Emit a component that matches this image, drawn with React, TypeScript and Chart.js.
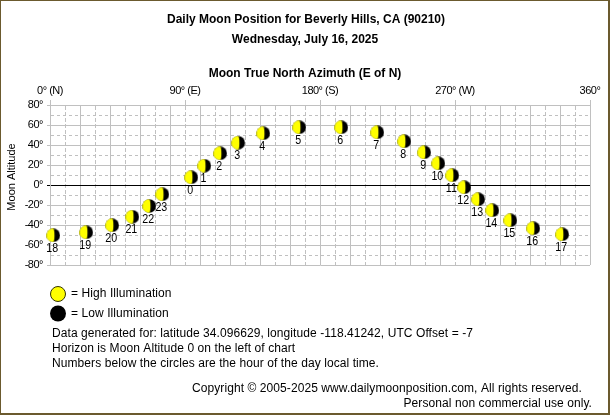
import React, { useEffect, useRef } from "react";
import { Chart, registerables } from "chart.js";

Chart.register(...registerables);

const hours = [0, 1, 2, 3, 4, 5, 6, 7, 8, 9, 10, 11, 12, 13, 14, 15, 16, 17, 18, 19, 20, 21, 22, 23];
const azimuths = [94.2, 102.9, 113.5, 125.5, 142.2, 166.2, 194.2, 218.2, 236.2, 249.5, 258.9, 268.2, 276.2, 285.5, 294.9, 306.9, 322.2, 341.5, 2.2, 24.2, 41.5, 54.9, 66.2, 74.9];
const altitudes = [7.7, 19.3, 31.7, 42.3, 51.7, 57.7, 57.7, 52.7, 43.7, 32.7, 21.7, 9.7, -2.3, -14.3, -25.3, -35.3, -43.3, -49.3, -50.3, -47.3, -40.3, -31.7, -21, -9.3];
const azimuthLabels: Record<number, string> = { 0: "0° (N)", 90: "90° (E)", 180: "180° (S)", 270: "270° (W)", 360: "360°" };

const titleLine1 = "Daily Moon Position for Beverly Hills, CA (90210)";
const titleLine2 = "Wednesday, July 16, 2025";
const axisTitleX = "Moon True North Azimuth (E of N)";
const axisTitleY = "Moon Altitude";
const legendHigh = "= High Illumination";
const legendLow = "= Low Illumination";
const notes = [
  "Data generated for: latitude 34.096629, longitude -118.41242, UTC Offset = -7",
  "Horizon is Moon Altitude 0 on the left of chart",
  "Numbers below the circles are the hour of the day local time.",
];
const copyright1 = "Copyright © 2005-2025 www.dailymoonposition.com, All rights reserved.";
const copyright2 = "Personal non commercial use only.";

const FONT = '"Liberation Sans", Arial, sans-serif';
const GRID = "#c0c0c0";
const FRAME = "#6b5a2e";

function moonSprite(): HTMLCanvasElement {
  const c = document.createElement("canvas");
  c.width = 14;
  c.height = 14;
  const g = c.getContext("2d")!;
  g.fillStyle = "#000000";
  g.beginPath();
  g.arc(7, 7, 6.8, 0, Math.PI * 2);
  g.fill();
  g.fillStyle = "#ffff00";
  g.beginPath();
  g.arc(7, 7, 6.8, Math.PI / 2, (3 * Math.PI) / 2);
  g.ellipse(7, 7, 1.2, 6.8, 0, -Math.PI / 2, Math.PI / 2);
  g.fill();
  return c;
}

const overlay = {
  id: "overlay",
  beforeDraw(chart: any) {
    chart.ctx.letterSpacing = "-0.5px";
  },
  afterDatasetsDraw(chart: any) {
    const g = chart.ctx as any;
    const meta = chart.getDatasetMeta(0);
    g.save();
    g.letterSpacing = "0px";
    g.fillStyle = FRAME;
    g.fillRect(0, 0, 610, 1);
    g.fillRect(0, 0, 1, 415);
    g.fillRect(608, 0, 2, 415);
    g.fillRect(0, 413, 610, 2);

    g.fillStyle = "#000";
    g.textBaseline = "middle";
    g.textAlign = "center";
    g.font = `13px ${FONT}`;
    meta.data.forEach((p: any, i: number) => {
      g.save();
      g.translate(p.x - 1, p.y + 13);
      g.scale(0.82, 1);
      g.fillText(String(hours[i]), 0, 0);
      g.restore();
    });

    g.font = `bold 12px ${FONT}`;
    g.fillText(titleLine1, 306, 19.5);
    g.fillText(titleLine2, 305, 39.5);
    g.fillText(axisTitleX, 305, 74);

    g.font = `11px ${FONT}`;
    g.save();
    g.translate(12, 177);
    g.rotate(-Math.PI / 2);
    g.fillText(axisTitleY, 0, 0);
    g.restore();

    g.font = `12px ${FONT}`;
    g.letterSpacing = "0.08px";
    g.textAlign = "left";
    g.fillText(legendHigh, 71, 294);
    g.fillText(legendLow, 71, 314);
    notes.forEach((t: string, i: number) => g.fillText(t, 52, 334 + i * 15));
    g.fillText(copyright1, 192, 389);
    g.textAlign = "right";
    g.fillText(copyright2, 592, 404);
    g.letterSpacing = "0px";

    g.fillStyle = "#ffff00";
    g.strokeStyle = "#333300";
    g.lineWidth = 1;
    g.beginPath();
    g.arc(58, 294, 7.5, 0, Math.PI * 2);
    g.fill();
    g.stroke();
    g.fillStyle = "#000";
    g.beginPath();
    g.arc(58, 313.5, 8, 0, Math.PI * 2);
    g.fill();
    g.restore();
  },
};

const isMajor = (c: any) => c.tick && c.tick.value % 20 === 0;
const tickMark = (c: any, step: number, col: string) => (c.tick && c.tick.value % step === 0 ? col : "rgba(0,0,0,0)");

export default function App() {
  const ref = useRef<HTMLCanvasElement>(null);
  useEffect(() => {
    document.body.style.margin = "0";
    const chart = new Chart(ref.current!, {
      type: "scatter",
      data: {
        datasets: [
          {
            label: "Moon position",
            data: azimuths.map((x, i) => ({ x, y: altitudes[i] })),
            pointStyle: moonSprite() as any,
            pointRadius: 7,
            showLine: false,
            clip: false,
          },
        ],
      },
      options: {
        animation: false,
        responsive: false,
        devicePixelRatio: 1,
        layout: { padding: { left: 0, top: 0, right: 20, bottom: 150 } },
        plugins: { legend: { display: false }, tooltip: { enabled: false } },
        scales: {
          x: {
            type: "linear",
            position: "top",
            min: 0,
            max: 360,
            afterBuildTicks: (s: any) => {
              s.ticks = [];
              for (let v = 0; v <= 360; v += 10) s.ticks.push({ value: v });
            },
            afterFit: (s: any) => {
              s.height = 105;
            },
            ticks: {
              autoSkip: false,
              maxRotation: 0,
              padding: 2,
              color: "#000",
              font: { family: FONT, size: 11 },
              callback: (v: any) => azimuthLabels[v] ?? "",
            },
            grid: {
              color: GRID,
              tickLength: 5,
              tickColor: (c: any) => tickMark(c, 90, GRID),
            },
            border: {
              color: GRID,
              dash: (c: any) => (isMajor(c) ? [] : [4, 2]),
            },
          },
          y: {
            type: "linear",
            min: -80,
            max: 80,
            afterBuildTicks: (s: any) => {
              s.ticks = [];
              for (let v = -80; v <= 80; v += 10) s.ticks.push({ value: v });
            },
            afterFit: (s: any) => {
              s.width = 50;
            },
            ticks: {
              autoSkip: false,
              padding: 4,
              color: "#000",
              font: { family: FONT, size: 11 },
              callback: (v: any) => (v % 20 === 0 ? `${v}°` : ""),
            },
            grid: {
              color: (c: any) => (c.tick && c.tick.value === 0 ? "#000" : GRID),
              tickLength: 3,
              tickColor: (c: any) => (c.tick && c.tick.value === 0 ? "#000" : tickMark(c, 20, GRID)),
            },
            border: {
              color: GRID,
              dash: (c: any) => (isMajor(c) ? [] : [3, 3]),
            },
          },
        },
      },
      plugins: [overlay],
    } as any);
    return () => chart.destroy();
  }, []);
  return (
    <canvas
      ref={ref}
      width={610}
      height={415}
      style={{ display: "block", position: "fixed", left: 0, top: 0, width: 610, height: 415, background: "#fff" }}
    />
  );
}
